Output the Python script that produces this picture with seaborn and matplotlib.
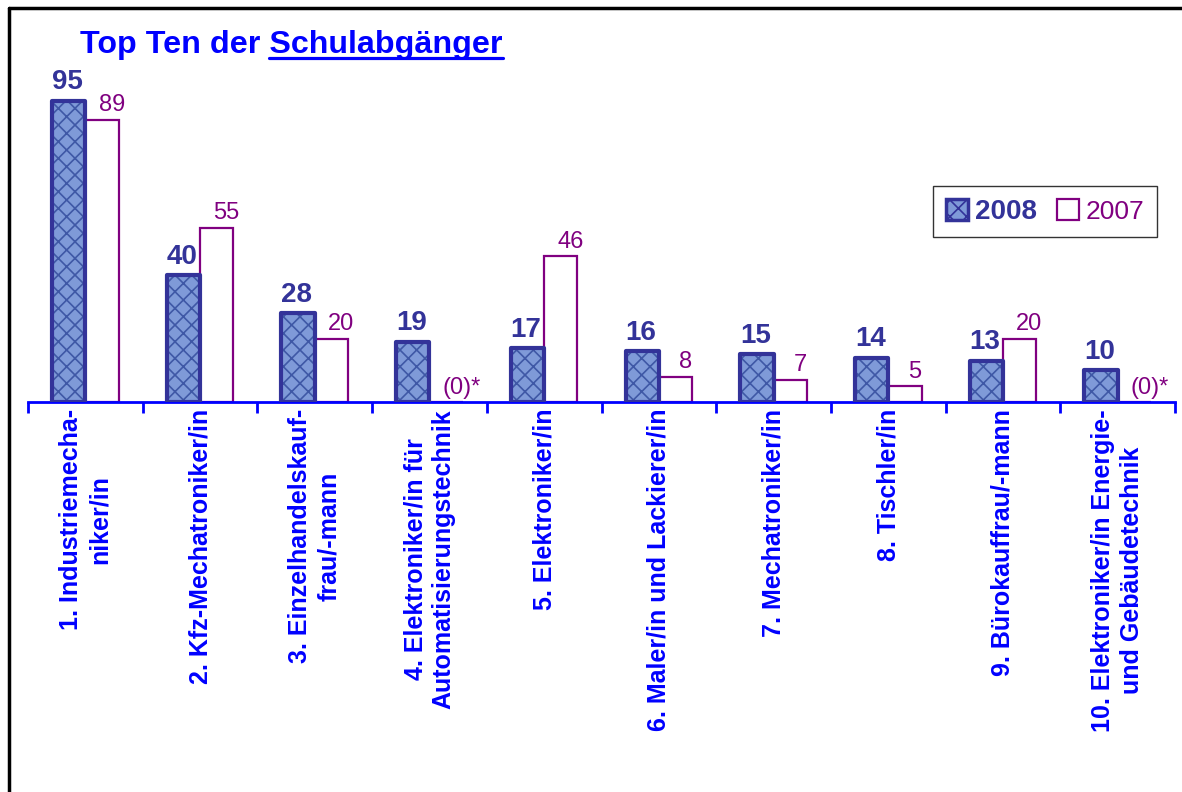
import matplotlib
matplotlib.use("Agg")
import matplotlib.pyplot as plt
import seaborn as sns
import pandas as pd
from matplotlib.patches import Rectangle, Patch
from matplotlib.lines import Line2D

# ---- data ----
categories = [
    "1. Industriemecha-\nniker/in",
    "2. Kfz-Mechatroniker/in",
    "3. Einzelhandelskauf-\nfrau/-mann",
    "4. Elektroniker/in für\nAutomatisierungstechnik",
    "5. Elektroniker/in",
    "6. Maler/in und Lackierer/in",
    "7. Mechatroniker/in",
    "8. Tischler/in",
    "9. Bürokauffrau/-mann",
    "10. Elektroniker/in Energie-\nund Gebäudetechnik",
]
years = ["2008", "2007"]
values_2008 = [95, 40, 28, 19, 17, 16, 15, 14, 13, 10]
values_2007 = [89, 55, 20, 0, 46, 8, 7, 5, 20, 0]
labels_2008 = ["95", "40", "28", "19", "17", "16", "15", "14", "13", "10"]
labels_2007 = ["89", "55", "20", "(0)*", "46", "8", "7", "5", "20", "(0)*"]
title_main = "Top Ten der "
title_underlined = "Schulabgänger"

NAVY = "#333399"
PURPLE = "#800080"
BLUE = "#0000FF"
TEXTURE_FACE = "#7f9ad8"
TEXTURE_HATCH = "#3f58a6"

df = pd.DataFrame({
    "Beruf": categories * 2,
    "Jahr": [years[0]] * len(categories) + [years[1]] * len(categories),
    "Anzahl": values_2008 + values_2007,
})

sns.set_theme(style="white")
plt.rcParams["font.family"] = ["Liberation Sans", "DejaVu Sans"]
plt.rcParams["hatch.linewidth"] = 1.2

fig = plt.figure(figsize=(11.82, 7.92), dpi=100)
W, H = 1182, 792
ax = fig.add_axes([28 / W, 1 - 402 / H, 1147 / W, 317 / H])

sns.barplot(data=df, x="Beruf", y="Anzahl", hue="Jahr", hue_order=years,
            order=categories, width=0.58, gap=0, dodge=True, legend=False,
            ax=ax, saturation=1)

bars08, bars07 = ax.containers[0], ax.containers[1]

for p in bars08:
    p.set_facecolor(TEXTURE_FACE)
    p.set_edgecolor(TEXTURE_HATCH)
    p.set_hatch("xx")
    p.set_linewidth(0)
    ax.add_patch(Rectangle((p.get_x(), p.get_y()), p.get_width(), p.get_height(),
                           fill=False, ec=NAVY, lw=3.0, joinstyle="round", zorder=3))
for p in bars07:
    p.set_facecolor("white")
    p.set_edgecolor(PURPLE)
    p.set_linewidth(1.6)

# data labels
for p, lab in zip(bars08, labels_2008):
    ax.annotate(lab, (p.get_x() + p.get_width() / 2, p.get_height()),
                xytext=(-1, 4), textcoords="offset points", ha="center", va="bottom",
                fontsize=20, fontweight="bold", color=NAVY, annotation_clip=False)
for p, lab, v in zip(bars07, labels_2007, values_2007):
    dx = 11 if v == 0 else 7
    ax.annotate(lab, (p.get_x() + p.get_width() / 2, p.get_height()),
                xytext=(dx, 2.5), textcoords="offset points", ha="center", va="bottom",
                fontsize=17, color=PURPLE, annotation_clip=False)

ax.set_xlim(-0.5, len(categories) - 0.5)
ax.set_ylim(0, 100)
ax.set_xlabel("")
ax.set_ylabel("")
ax.set_yticks([])
for s in ["top", "right", "left"]:
    ax.spines[s].set_visible(False)
ax.spines["bottom"].set_color(BLUE)
ax.spines["bottom"].set_linewidth(2)

ax.set_xticks(range(len(categories)))
ax.set_xticklabels(categories, rotation=90, fontsize=18, fontweight="bold",
                   color=BLUE, linespacing=1.25, multialignment="center")
ax.tick_params(axis="x", which="major", length=0, pad=5)
ax.set_xticks([i - 0.5 for i in range(len(categories) + 1)], minor=True)
ax.tick_params(axis="x", which="minor", length=8, width=2, color=BLUE,
               direction="out", bottom=True)

# legend
handles = [
    Patch(facecolor=TEXTURE_FACE, edgecolor=NAVY, hatch="xx", linewidth=2.5),
    Patch(facecolor="white", edgecolor=PURPLE, linewidth=1.6),
]
leg = fig.legend(handles, years, loc="upper right", ncol=2,
                 bbox_to_anchor=(1157 / W, 1 - 186 / H), bbox_transform=fig.transFigure,
                 frameon=True, fancybox=False, fontsize=20, handlelength=0.8,
                 handleheight=0.8, handletextpad=0.25, columnspacing=0.7,
                 borderpad=0.45, borderaxespad=0)
leg.get_frame().set_edgecolor("black")
leg.get_frame().set_linewidth(1.0)
t08, t07 = leg.get_texts()
t08.set_fontweight("bold")
t08.set_color(NAVY)
t07.set_color(PURPLE)
t07.set_fontsize(19)

# title with underlined part
title_y = 1 - 53 / H
full = fig.text(80 / W, title_y, title_main + title_underlined, fontsize=23.2,
                fontweight="bold", color=BLUE, va="baseline", ha="left")
tmp = fig.text(0, 0, title_underlined, fontsize=23.2, fontweight="bold")
renderer = fig.canvas.get_renderer()
bb_full = full.get_window_extent(renderer)
bb_part = tmp.get_window_extent(renderer)
tmp.remove()
x1 = bb_full.x1 / W
x0 = (bb_full.x1 - bb_part.width) / W
uy = 1 - 58 / H
fig.add_artist(Line2D([x0, x1], [uy, uy], transform=fig.transFigure, color=BLUE, lw=2.3))

# outer frame (left and top edges)
fig.add_artist(Line2D([9 / W, 9 / W], [0, 1 - 8 / H], transform=fig.transFigure,
                      color="black", lw=2.5))
fig.add_artist(Line2D([9 / W, 1], [1 - 8 / H, 1 - 8 / H], transform=fig.transFigure,
                      color="black", lw=2.5))

fig.savefig("out.png", dpi=100)
